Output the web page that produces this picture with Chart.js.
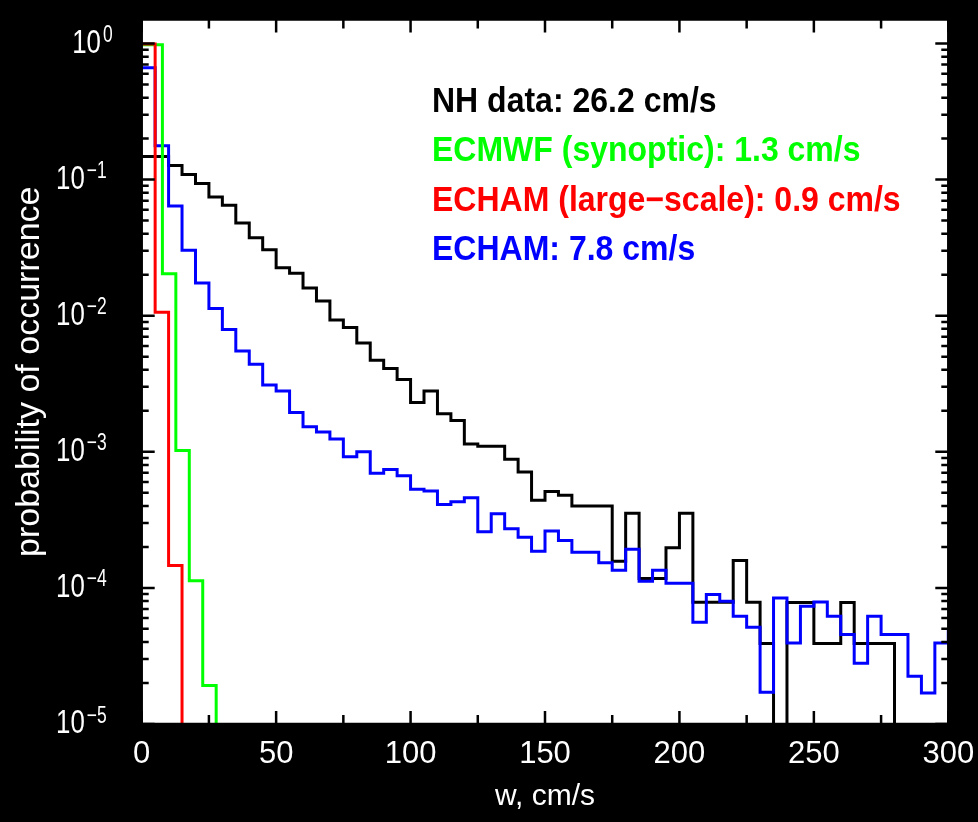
<!DOCTYPE html>
<html>
<head>
<meta charset="utf-8">
<script src="https://cdn.jsdelivr.net/npm/chart.js@4.4.1/dist/chart.umd.min.js"></script>
<style>
  html, body { margin: 0; padding: 0; background: #000; }
  #wrap { width: 978px; height: 822px; }
</style>
</head>
<body>
<div id="wrap"><canvas id="myChart" width="978" height="822"></canvas></div>
<script>
// histograms of vertical velocity w (cm/s), 5 cm/s bins starting at 0
var binWidth = 5;
var nhData = [0.148, 0.148, 0.127, 0.109, 0.0934, 0.0744, 0.0647, 0.0479, 0.0374, 0.0305,
              0.0225, 0.0205, 0.016, 0.0128, 0.0093, 0.0082, 0.0063, 0.0047, 0.0041, 0.0034,
              0.0023, 0.0028, 0.0019, 0.0017, 0.00114, 0.0011, 0.0011, 0.00088, 0.00071, 0.00044,
              0.00051, 0.00048, 0.0004, 0.0004, 0.0004, 0.000157, 0.000353, 0.000117, 0.000117, 0.000197,
              0.000353, 7.85e-5, 7.85e-5, 7.85e-5, 0.000159, 7.85e-5, 3.9e-5, 0, 7.8e-5, 7.8e-5,
              3.9e-5, 3.9e-5, 7.8e-5, 3.9e-5, 3.9e-5, 3.9e-5, 0, 0, 0, 0];
var echamData = [0.663, 0.177, 0.064, 0.0302, 0.0174, 0.0113, 0.0079, 0.0055, 0.0044, 0.0031,
                 0.0028, 0.00194, 0.00153, 0.0014, 0.00124, 0.00092, 0.001, 0.000695, 0.00074, 0.000668,
                 0.00053, 0.000515, 0.00041, 0.00043, 0.00046, 0.000258, 0.000351, 0.000272, 0.000236, 0.000186,
                 0.000262, 0.000223, 0.000183, 0.000183, 0.000153, 0.000135, 0.000192, 0.000112, 0.000135, 0.000108,
                 0.000108, 5.6e-5, 8.94e-5, 7.98e-5, 6.2e-5, 5.14e-5, 1.71e-5, 8.44e-5, 3.94e-5, 7.33e-5,
                 7.89e-5, 6.2e-5, 4.54e-5, 2.8e-5, 6.2e-5, 4.54e-5, 4.54e-5, 2.24e-5, 1.69e-5, 3.94e-5];
var echamNextBin = 5.0e-5; // bin starting at 300, only its edge is visible
var ecmwfEdges = [0, 7.7, 12.7, 17.7, 22.7, 27.7];
var ecmwfData = [0.98, 0.0203, 0.00102, 0.000113, 1.92e-5];
var largeScaleEdges = [0, 5, 10, 15];
var largeScaleData = [0.99, 0.0106, 0.000146];
var EMPTY = 1e-7; // empty bin, falls below the axis

var legendText = ['NH data: 26.2 cm/s', 'ECMWF (synoptic): 1.3 cm/s', 'ECHAM (large\u2212scale): 0.9 cm/s', 'ECHAM: 7.8 cm/s'];
var legendColors = ['#000000', '#00ff00', '#ff0000', '#0000ff'];
var yDecades = [0, -1, -2, -3, -4, -5];

var font = '"Liberation Sans", Arial, sans-serif';

function binEdges(values) {
    var e = [];
    for (var i = 0; i <= values.length; i++) e.push(i * binWidth);
    return e;
}

function steps(edges, values, last) {
    var pts = [];
    for (var i = 0; i < values.length; i++) {
        pts.push({x: edges[i], y: values[i] > 0 ? values[i] : EMPTY});
    }
    pts.push({x: edges[values.length], y: last});
    return pts;
}

var decor = {
    id: 'decor',
    beforeDraw: function(chart) {
        var a = chart.chartArea, ctx = chart.ctx;
        ctx.save();
        ctx.fillStyle = '#ffffff';
        ctx.fillRect(a.left, a.top, a.right - a.left, a.bottom - a.top);
        ctx.restore();
    },
    afterDatasetsDraw: function(chart) {
        var a = chart.chartArea, ctx = chart.ctx;
        var xs = chart.scales.x, ys = chart.scales.y;
        ctx.save();
        ctx.strokeStyle = '#000';
        ctx.lineWidth = 2.5;
        ctx.beginPath();
        for (var v = 0; v <= 300; v += 25) {
            var px = xs.getPixelForValue(v);
            var len = v % 50 === 0 ? 13 : 9;
            ctx.moveTo(px, a.bottom); ctx.lineTo(px, a.bottom - len);
            ctx.moveTo(px, a.top); ctx.lineTo(px, a.top + len);
        }
        for (var e = -5; e <= 0; e++) {
            for (var m = 1; m <= 9; m++) {
                var val = m * Math.pow(10, e);
                if (val > ys.max) break;
                var py = ys.getPixelForValue(val);
                var l = m === 1 ? 13 : 7;
                ctx.moveTo(a.left, py); ctx.lineTo(a.left + l, py);
                ctx.moveTo(a.right, py); ctx.lineTo(a.right - l, py);
            }
        }
        ctx.stroke();
        ctx.strokeRect(a.left, a.top, a.right - a.left, a.bottom - a.top);
        ctx.restore();
    },
    afterDraw: function(chart) {
        var a = chart.chartArea, ctx = chart.ctx, ys = chart.scales.y;
        var squeeze = 0.76;
        ctx.save();
        // y tick labels 10^n
        ctx.fillStyle = '#ffffff';
        yDecades.forEach(function(e) {
            var py = ys.getPixelForValue(Math.pow(10, e));
            var sup = e === 0 ? '0' : '\u2212' + (-e);
            ctx.font = '34px ' + font;
            var w1 = ctx.measureText('10').width * squeeze;
            ctx.font = '23px ' + font;
            var w2 = ctx.measureText(sup).width * squeeze;
            var gap = e === 0 ? 29 : 35;
            var x0 = a.left - gap - w2 - 2 - w1;
            ctx.save();
            ctx.translate(x0, py);
            ctx.scale(squeeze, 1);
            ctx.font = '34px ' + font;
            ctx.textBaseline = 'middle';
            ctx.fillText('10', 0, 0);
            ctx.restore();
            ctx.save();
            ctx.translate(x0 + w1 + 2, py - 1.5);
            ctx.scale(squeeze, 1);
            ctx.font = '23px ' + font;
            ctx.textBaseline = 'alphabetic';
            ctx.fillText(sup, 0, 0);
            ctx.restore();
        });
        // legend as coloured text inside the plot
        ctx.font = 'bold 32px ' + font;
        ctx.textBaseline = 'alphabetic';
        legendText.forEach(function(t, i) {
            ctx.save();
            ctx.translate(432, 111.7 + i * 49.4);
            ctx.scale(1, 1.08);
            ctx.fillStyle = legendColors[i];
            ctx.fillText(t, 0, 0);
            ctx.restore();
        });
        ctx.restore();
    }
};

document.addEventListener('DOMContentLoaded', function(){
    var datasets = [
        {label: 'ECHAM (large-scale)', data: steps(largeScaleEdges, largeScaleData, EMPTY), borderColor: '#ff0000'},
        {label: 'ECMWF (synoptic)', data: steps(ecmwfEdges, ecmwfData, EMPTY), borderColor: '#00ff00'},
        {label: 'ECHAM', data: steps(binEdges(echamData), echamData, echamNextBin), borderColor: '#0000ff'},
        {label: 'NH data', data: steps(binEdges(nhData), nhData, EMPTY), borderColor: '#000000'}
    ];
    datasets.forEach(function(d) {
        d.stepped = 'before';
        d.borderWidth = 3;
        d.pointRadius = 0;
        d.fill = false;
    });

    var ctx = document.getElementById('myChart').getContext('2d');
    var myChart = new Chart(ctx, {
        type: 'line',
        data: {datasets: datasets},
        options: {
            responsive: false,
            animation: false,
            layout: {autoPadding: false, padding: {left: 0, top: 19.5, right: 29.7, bottom: 0}},
            plugins: {legend: {display: false}, tooltip: {enabled: false}},
            scales: {
                x: {
                    type: 'linear', min: 0, max: 300,
                    grid: {display: false, drawTicks: false}, border: {display: false},
                    ticks: {stepSize: 50, color: '#ffffff', padding: 11.9, maxRotation: 0,
                            font: {family: font, size: 31}},
                    title: {display: true, text: 'w, cm/s', color: '#ffffff',
                            padding: {top: -6, bottom: 7}, font: {family: font, size: 30}},
                    afterFit: function(scale) {
                        // end labels may hang past the frame, as in the original
                        scale.paddingLeft = 0;
                        scale.paddingRight = 0;
                    }
                },
                y: {
                    type: 'logarithmic', min: 1e-5, max: 1.5,
                    grid: {display: false, drawTicks: false}, border: {display: false},
                    ticks: {display: false},
                    title: {display: true, text: 'probability of occurrence', color: '#ffffff',
                            padding: {top: 9.6, bottom: 91.3}, font: {family: font, size: 34}}
                }
            }
        },
        plugins: [decor]
    });
});
</script>
</body>
</html>
